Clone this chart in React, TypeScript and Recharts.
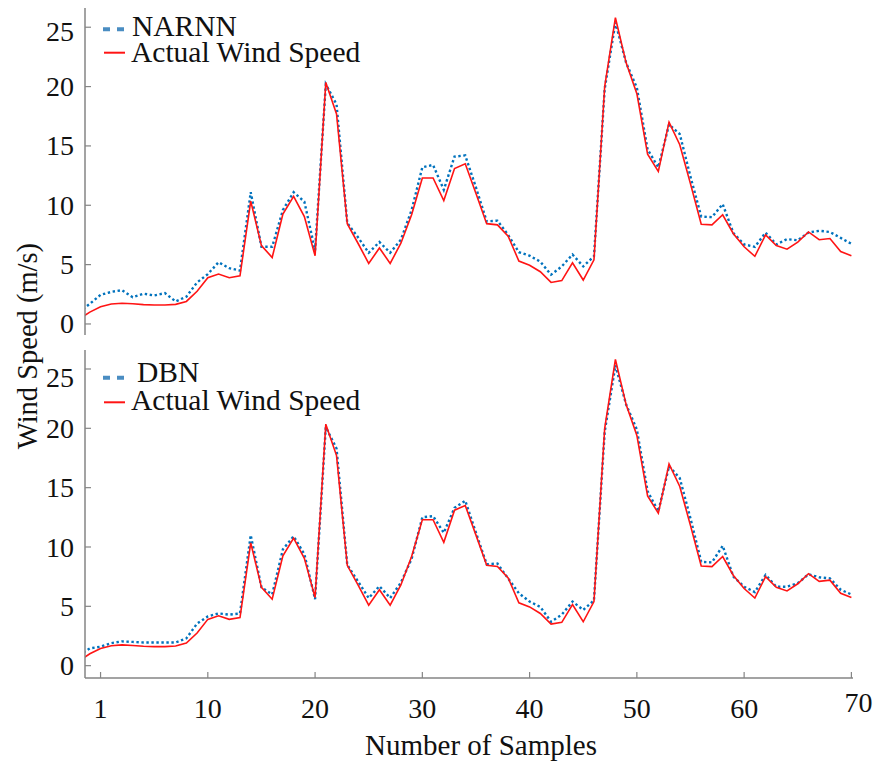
import React from 'react';
import { LineChart, Line, XAxis, YAxis, Legend } from 'recharts';

const FONT = '"Liberation Serif", "Times New Roman", Times, serif';
const FRAME = '#858585';
const BLUE = '#0072BD';
const LEGEND_BLUE = '#4a8dc2';
const RED = '#ff1414';
const TEXT = '#111111';
const W = 878;
const H = 770;
const TICK_LEN = 6;

// sample index (x axis)
const SAMPLES = [
  -2, -1, 0, 1, 2, 3, 4, 5, 6, 7, 8, 9, 10, 11, 12, 13, 14, 15, 16, 17, 18, 19, 20,
  21, 22, 23, 24, 25, 26, 27, 28, 29, 30, 31, 32, 33, 34, 35, 36, 37, 38, 39, 40,
  41, 42, 43, 44, 45, 46, 47, 48, 49, 50, 51, 52, 53, 54, 55, 56, 57, 58, 59, 60,
  61, 62, 63, 64, 65, 66, 67, 68, 69, 70,
];

const ACTUAL = [
  0.4, 1.0, 1.45, 1.68, 1.75, 1.7, 1.63, 1.6, 1.6, 1.65, 1.9, 2.75, 3.9, 4.2, 3.9, 4.05,
  10.35, 6.6, 5.6, 9.25, 10.75, 9.05, 5.75, 20.35, 17.7, 8.45, 6.8, 5.1, 6.4, 5.1, 6.8,
  9.2, 12.3, 12.3, 10.4, 13.1, 13.5, 11.0, 8.45, 8.35, 7.4, 5.3, 4.95, 4.4, 3.5, 3.65,
  5.15, 3.7, 5.4, 20.0, 25.8, 22.0, 19.4, 14.3, 12.85, 17.0, 15.1, 11.8, 8.4, 8.35, 9.2,
  7.6, 6.5, 5.7, 7.5, 6.6, 6.3, 6.9, 7.75, 7.1, 7.2, 6.1, 5.75,
];

const NARNN = [
  1.0, 1.7, 2.45, 2.7, 2.85, 2.25, 2.55, 2.4, 2.6, 1.9, 2.3, 3.5, 4.2, 5.2, 4.7, 4.5,
  11.1, 6.5, 6.5, 9.6, 11.1, 10.3, 6.2, 20.2, 18.5, 8.5, 7.3, 6.0, 6.9, 6.0, 7.1,
  9.6, 13.2, 13.4, 11.3, 14.1, 14.2, 11.5, 8.65, 8.7, 7.5, 6.05, 5.75, 5.25, 4.15, 4.85,
  5.85, 4.85, 5.7, 19.8, 25.4, 22.0, 19.9, 14.7, 13.2, 16.8, 16.0, 12.4, 9.05, 9.0, 10.1,
  7.65, 6.7, 6.5, 7.7, 6.7, 7.15, 7.05, 7.7, 7.85, 7.75, 7.25, 6.75,
];

const DBN = [
  0.9, 1.45, 1.6, 1.9, 2.05, 2.0, 1.95, 1.95, 1.95, 1.95, 2.3, 3.55, 4.15, 4.4, 4.3, 4.4,
  11.0, 6.6, 6.0, 9.8, 10.9, 9.4, 5.6, 20.1, 18.3, 8.5, 7.1, 5.7, 6.7, 5.7, 7.0,
  9.0, 12.5, 12.6, 11.2, 13.3, 13.9, 11.2, 8.55, 8.6, 7.35, 6.1, 5.4, 4.95, 3.7, 4.3,
  5.4, 4.7, 5.5, 19.7, 25.3, 22.0, 19.9, 14.7, 13.0, 16.8, 15.8, 12.4, 8.75, 8.7, 10.1,
  7.5, 6.65, 6.2, 7.65, 6.65, 6.65, 6.95, 7.7, 7.45, 7.35, 6.4, 6.0,
];

const X_TICKS = [0, 10, 20, 30, 40, 50, 60, 70];
const X_TICK_LABELS = ['1', '10', '20', '30', '40', '50', '60', '70'];
const Y_TICKS = [0, 5, 10, 15, 20, 25];
const X_DOMAIN: [number, number] = [-1.45, 70.15];

const SERIES_NAMES = ['NARNN', 'DBN'];
const ACTUAL_NAME = 'Actual Wind Speed';
const X_TITLE = 'Number of Samples';
const Y_TITLE = 'Wind Speed (m/s)';

const topData = SAMPLES.map((x, i) => ({ x, pred: NARNN[i], actual: ACTUAL[i] }));
const bottomData = SAMPLES.map((x, i) => ({ x, pred: DBN[i], actual: ACTUAL[i] }));

const makeLeftTick = (shift25: number) => (props: any) => {
  const { x, y, payload } = props;
  const v = payload.value;
  return (
    <g>
      <line x1={x} y1={y} x2={x + TICK_LEN} y2={y} stroke={FRAME} strokeWidth={1.2} />
      <text
        x={x - 11}
        y={y + (v === 25 ? shift25 : 0)}
        dy="0.34em"
        textAnchor="end"
        fontFamily={FONT}
        fontSize={28}
        fill={TEXT}
      >
        {v}
      </text>
    </g>
  );
};

const RightTick = (props: any) => {
  const { x, y } = props;
  return <line x1={x} y1={y} x2={x - TICK_LEN} y2={y} stroke={FRAME} strokeWidth={1.2} />;
};

const TopTick = (props: any) => {
  const { x, y } = props;
  return <line x1={x} y1={y} x2={x} y2={y + TICK_LEN} stroke={FRAME} strokeWidth={1.2} />;
};

const makeBottomTick = (showLabels: boolean) => (props: any) => {
  const { x, y, payload, index } = props;
  const isLast = payload.value === 70;
  return (
    <g>
      <line x1={x} y1={y} x2={x} y2={y - TICK_LEN} stroke={FRAME} strokeWidth={1.2} />
      {showLabels && (
        <text
          x={x + (isLast ? 7 : 0)}
          y={y + (isLast ? 34 : 40)}
          textAnchor="middle"
          fontFamily={FONT}
          fontSize={28}
          fill={TEXT}
        >
          {X_TICK_LABELS[X_TICKS.indexOf(payload.value)] ?? String(index)}
        </text>
      )}
    </g>
  );
};

type LegendCfg = {
  height: number;
  blueY: number;
  predX: number;
  predBase: number;
  redY: number;
  actualBase: number;
};

const PanelLegend = ({ name, cfg }: { name: string; cfg: LegendCfg }) => (
  <svg width={400} height={cfg.height} style={{ display: 'block', overflow: 'visible' }}>
    <line
      x1={103}
      x2={125}
      y1={cfg.blueY}
      y2={cfg.blueY}
      stroke={LEGEND_BLUE}
      strokeWidth={4}
      strokeDasharray="7 7"
    />
    <text x={cfg.predX} y={cfg.predBase} fontFamily={FONT} fontSize={29.5} fill={TEXT}>
      {name}
    </text>
    <line x1={104} x2={125} y1={cfg.redY} y2={cfg.redY} stroke={RED} strokeWidth={2} />
    <text x={131} y={cfg.actualBase} fontFamily={FONT} fontSize={29.5} fill={TEXT}>
      {ACTUAL_NAME}
    </text>
  </svg>
);

type PanelProps = {
  data: any[];
  name: string;
  marginTop: number;
  marginBottom: number;
  xAxisHeight: number;
  yDomain: [number, number];
  showXLabels: boolean;
  shift25: number;
  legend: LegendCfg;
};

const Panel = ({ data, name, marginTop, marginBottom, xAxisHeight, yDomain, showXLabels, shift25, legend }: PanelProps) => (
  <div style={{ position: 'absolute', left: 0, top: 0 }}>
    <LineChart width={W} height={H} data={data} margin={{ top: marginTop, right: 25, bottom: marginBottom, left: 0 }}>
      <XAxis
        xAxisId="bottom"
        type="number"
        dataKey="x"
        domain={X_DOMAIN}
        allowDataOverflow
        ticks={X_TICKS}
        interval={0}
        height={xAxisHeight}
        tickSize={0}
        tickMargin={0}
        tickLine={false}
        axisLine={{ stroke: FRAME, strokeWidth: 1.5 }}
        tick={makeBottomTick(showXLabels)}
      />
      <XAxis
        xAxisId="top"
        orientation="top"
        type="number"
        dataKey="x"
        domain={X_DOMAIN}
        allowDataOverflow
        ticks={X_TICKS}
        interval={0}
        height={0}
        tickSize={0}
        tickMargin={0}
        tickLine={false}
        axisLine={{ stroke: FRAME, strokeWidth: 1.5 }}
        tick={TopTick}
      />
      <YAxis
        yAxisId="left"
        type="number"
        domain={yDomain}
        allowDataOverflow
        ticks={Y_TICKS}
        interval={0}
        width={85}
        tickSize={0}
        tickMargin={0}
        tickLine={false}
        axisLine={{ stroke: FRAME, strokeWidth: 1.5 }}
        tick={makeLeftTick(shift25)}
      />
      <YAxis
        yAxisId="right"
        orientation="right"
        type="number"
        domain={yDomain}
        allowDataOverflow
        ticks={Y_TICKS}
        interval={0}
        width={0}
        tickSize={0}
        tickMargin={0}
        tickLine={false}
        axisLine={{ stroke: FRAME, strokeWidth: 1.5 }}
        tick={RightTick}
      />
      <Legend
        layout="vertical"
        align="center"
        verticalAlign="middle"
        wrapperStyle={{ position: 'absolute', left: 0, top: 0, width: 400, height: legend.height, margin: 0, padding: 0, lineHeight: 0, pointerEvents: 'none' }}
        content={() => <PanelLegend name={name} cfg={legend} />}
      />
      <Line
        xAxisId="bottom"
        yAxisId="left"
        type="linear"
        dataKey="pred"
        name={name}
        stroke={BLUE}
        strokeWidth={2.4}
        strokeDasharray="2.4 2.6"
        dot={false}
        activeDot={false}
        isAnimationActive={false}
      />
      <Line
        xAxisId="bottom"
        yAxisId="left"
        type="linear"
        dataKey="actual"
        name={ACTUAL_NAME}
        stroke={RED}
        strokeWidth={1.6}
        dot={false}
        activeDot={false}
        isAnimationActive={false}
      />
    </LineChart>
  </div>
);

export default function App() {
  return (
    <div style={{ position: 'absolute', left: 0, top: 0, width: W, height: H, background: '#fff', overflow: 'hidden' }}>
      <Panel
        data={topData}
        name={SERIES_NAMES[0]}
        marginTop={8}
        marginBottom={435}
        xAxisHeight={0}
        yDomain={[-0.93, 26.62]}
        showXLabels={false}
        shift25={4}
        legend={{ height: 80, blueY: 29.3, predX: 132, predBase: 35.5, redY: 52.7, actualBase: 61.7 }}
      />
      <Panel
        data={bottomData}
        name={SERIES_NAMES[1]}
        marginTop={350}
        marginBottom={0}
        xAxisHeight={92}
        yDomain={[-1.04, 26.6]}
        showXLabels={true}
        shift25={8}
        legend={{ height: 430, blueY: 377.7, predX: 137, predBase: 381.5, redY: 402.3, actualBase: 410 }}
      />
      <svg width={W} height={H} style={{ position: 'absolute', left: 0, top: 0, pointerEvents: 'none' }}>
        <text x={481} y={755} textAnchor="middle" fontFamily={FONT} fontSize={29} fill={TEXT}>
          {X_TITLE}
        </text>
        <text transform="translate(36.5,346) rotate(-90)" textAnchor="middle" fontFamily={FONT} fontSize={28.5} fill={TEXT}>
          {Y_TITLE}
        </text>
      </svg>
    </div>
  );
}
